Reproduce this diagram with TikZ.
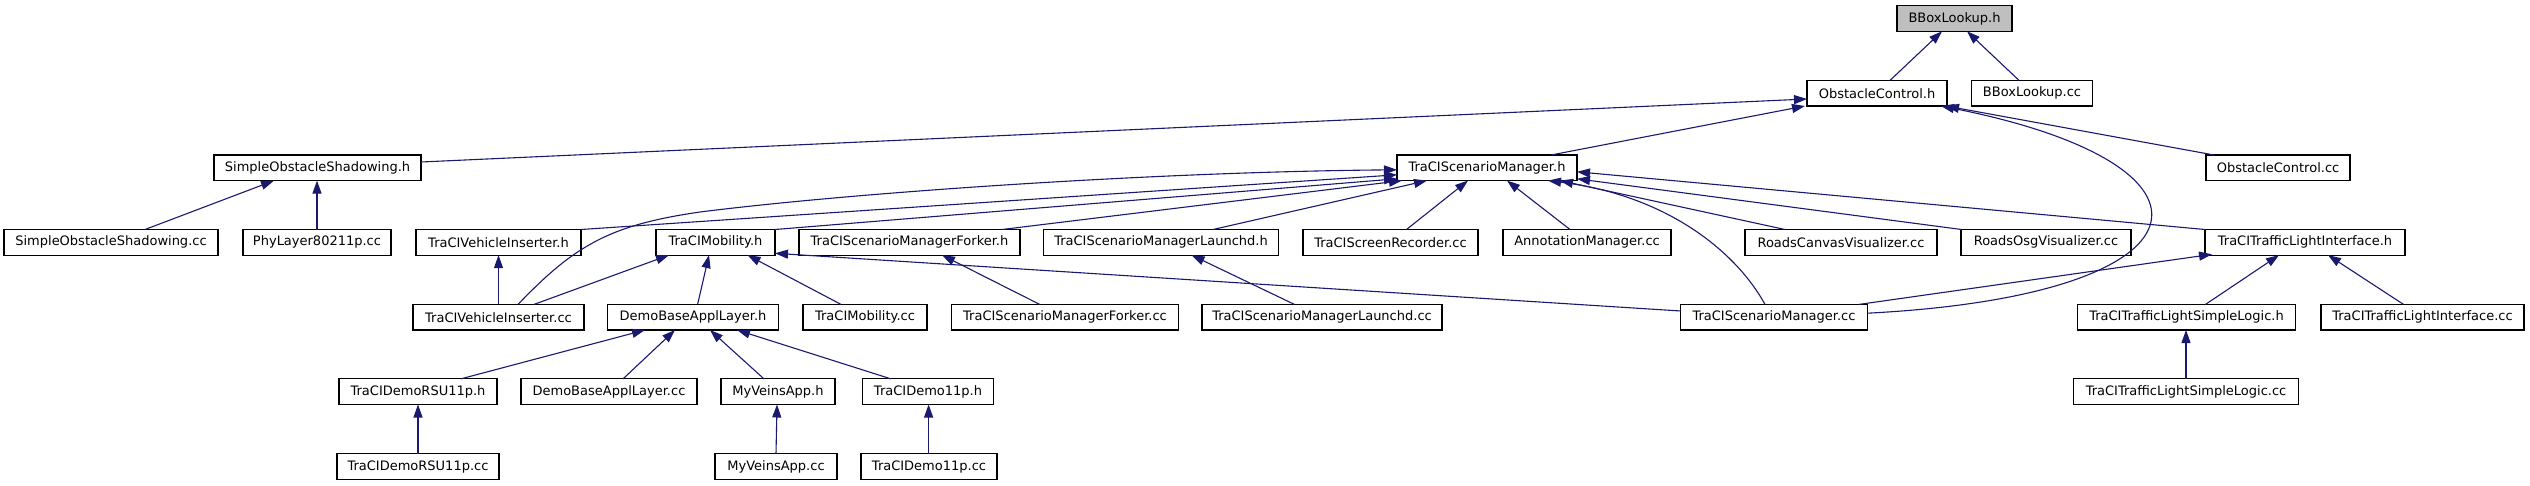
\documentclass[tikz,border=0pt]{standalone}
\usepackage{fontspec}
\setmainfont{DejaVu Sans}
\usetikzlibrary{arrows.meta,calc}
\definecolor{edgeblue}{HTML}{191970}
\definecolor{rootgray}{HTML}{BFBFBF}
\begin{document}
\begin{tikzpicture}[x=1pt,y=-1pt,
  fbox/.style={draw=black, line width=1.1pt, fill=white, minimum height=25.6pt, inner sep=0pt, font=\fontsize{13}{15}\selectfont, anchor=center},
  rootbox/.style={fbox, fill=rootgray},
  dep/.style={draw=edgeblue, line width=1.1pt, -{Triangle[length=13pt,width=9pt]}}
]
\useasboundingbox (0,0) rectangle (2530,485);
% row 1
\node[rootbox, minimum width=115pt] (bbh) at (1954.5,18.5) {BBoxLookup.h};
% row 2
\node[fbox, minimum width=140pt] (och) at (1877,93.2) {ObstacleControl.h};
\node[fbox, minimum width=121pt] (bbcc) at (2032,93.2) {BBoxLookup.cc};
% row 3
\node[fbox, minimum width=207pt] (sosh) at (317.5,167.8) {SimpleObstacleShadowing.h};
\node[fbox, minimum width=180pt] (tsmh) at (1487,167.8) {TraCIScenarioManager.h};
\node[fbox, minimum width=144pt] (occ) at (2278,167.8) {ObstacleControl.cc};
% row 4
\node[fbox, minimum width=214pt] (soscc) at (111,242.3) {SimpleObstacleShadowing.cc};
\node[fbox, minimum width=148pt] (phy) at (317,242.3) {PhyLayer80211p.cc};
\node[fbox, minimum width=165pt] (tvih) at (498.5,242.3) {TraCIVehicleInserter.h};
\node[fbox, minimum width=119pt] (tmh) at (715.5,242.3) {TraCIMobility.h};
\node[fbox, minimum width=221pt] (tsmfh) at (909.5,242.3) {TraCIScenarioManagerForker.h};
\node[fbox, minimum width=234.5pt] (tsmlh) at (1161,242.3) {TraCIScenarioManagerLaunchd.h};
\node[fbox, minimum width=175pt] (tsr) at (1390.5,242.3) {TraCIScreenRecorder.cc};
\node[fbox, minimum width=168pt] (ann) at (1587,242.3) {AnnotationManager.cc};
\node[fbox, minimum width=192pt] (rcv) at (1841,242.3) {RoadsCanvasVisualizer.cc};
\node[fbox, minimum width=170pt] (rov) at (2046,242.3) {RoadsOsgVisualizer.cc};
\node[fbox, minimum width=200pt] (tlih) at (2305,242.3) {TraCITrafficLightInterface.h};
% row 5
\node[fbox, minimum width=171pt] (tvicc) at (498.5,317.2) {TraCIVehicleInserter.cc};
\node[fbox, minimum width=171pt] (dbalh) at (693,317.2) {DemoBaseApplLayer.h};
\node[fbox, minimum width=124pt] (tmcc) at (865,317.2) {TraCIMobility.cc};
\node[fbox, minimum width=226.5pt] (tsmfcc) at (1065,317.2) {TraCIScenarioManagerForker.cc};
\node[fbox, minimum width=240pt] (tsmlcc) at (1322,317.2) {TraCIScenarioManagerLaunchd.cc};
\node[fbox, minimum width=186.5pt] (tsmcc) at (1774,317.2) {TraCIScenarioManager.cc};
\node[fbox, minimum width=218.5pt] (tlslh) at (2186.5,317.2) {TraCITrafficLightSimpleLogic.h};
\node[fbox, minimum width=203pt] (tlicc) at (2422.5,317.2) {TraCITrafficLightInterface.cc};
% row 6
\node[fbox, minimum width=158pt] (rsuh) at (418,391.7) {TraCIDemoRSU11p.h};
\node[fbox, minimum width=176pt] (dbalcc) at (609,391.7) {DemoBaseApplLayer.cc};
\node[fbox, minimum width=114pt] (mvh) at (778,391.7) {MyVeinsApp.h};
\node[fbox, minimum width=130.5pt] (d11h) at (928,391.7) {TraCIDemo11p.h};
\node[fbox, minimum width=225.5pt] (tlslcc) at (2186,391.7) {TraCITrafficLightSimpleLogic.cc};
% row 7
\node[fbox, minimum width=162pt] (rsucc) at (418,466.7) {TraCIDemoRSU11p.cc};
\node[fbox, minimum width=122pt] (mvcc) at (776,466.7) {MyVeinsApp.cc};
\node[fbox, minimum width=136pt] (d11cc) at (929,466.7) {TraCIDemo11p.cc};

% edges
\draw[dep] ($(och)+(13,-12.8)$) -- ($(bbh)+(-12.5,12.8)$);
\draw[dep] ($(bbcc)+(-13,-12.8)$) -- ($(bbh)+(12.5,12.8)$);
\draw[dep] ($(sosh)+(103.5,-5.8)$) -- ($(och)+(-70,5.8)$);
\draw[dep] ($(tsmh)+(64,-12.8)$) -- ($(och)+(-72,12.8)$);
\draw[dep] ($(occ)+(-64,-12.8)$) -- ($(och)+(69,12.8)$);
\draw[dep] ($(tsmcc)+(93.25,-4)$) .. controls (2220,295) and (2240,165) .. ($(och)+(64,12.8)$);
\draw[dep] ($(soscc)+(34,-12.8)$) -- ($(sosh)+(-43.5,12.8)$);
\draw[dep] ($(phy)+(0,-12.8)$) -- ($(sosh)+(-0.5,12.8)$);
\draw[dep] ($(tvih)+(82.5,-12.8)$) -- ($(tsmh)+(-90,7)$);
\draw[dep] ($(tvicc)+(19.5,-12.8)$) .. controls (575,245) and (610,225) .. (700,212) .. controls (850,193) and (1150,172) .. ($(tsmh)+(-90,2)$);
\draw[dep] ($(tmh)+(59.5,-12.8)$) -- ($(tsmh)+(-90,11)$);
\draw[dep] ($(tsmfh)+(92.5,-12.8)$) -- ($(tsmh)+(-85,12.8)$);
\draw[dep] ($(tsmlh)+(52,-12.8)$) -- ($(tsmh)+(-60,12.8)$);
\draw[dep] ($(tsr)+(16,-12.8)$) -- ($(tsmh)+(-19,12.8)$);
\draw[dep] ($(ann)+(-17,-12.8)$) -- ($(tsmh)+(20,12.8)$);
\draw[dep] ($(tsmcc)+(-9,-12.8)$) .. controls (1735,250) and (1665,195) .. ($(tsmh)+(61,12.8)$);
\draw[dep] ($(rcv)+(-56,-12.8)$) -- ($(tsmh)+(73,12.8)$);
\draw[dep] ($(rov)+(-84.5,-12.8)$) -- ($(tsmh)+(90,11)$);
\draw[dep] ($(tlih)+(-100,-12.8)$) -- ($(tsmh)+(90,4)$);
\draw[dep] ($(tvicc)+(0,-12.8)$) -- ($(tvih)+(0,12.8)$);
\draw[dep] ($(tvicc)+(35.5,-12.8)$) -- ($(tmh)+(-46.5,12.8)$);
\draw[dep] ($(dbalh)+(4.6,-12.8)$) -- ($(tmh)+(-6.5,12.8)$);
\draw[dep] ($(tmcc)+(-24,-12.8)$) -- ($(tmh)+(32,12.8)$);
\draw[dep] ($(tsmcc)+(-93.25,-6.2)$) -- ($(tmh)+(59.5,11)$);
\draw[dep] ($(tsmfcc)+(-25.3,-12.8)$) -- ($(tsmfh)+(32.5,12.8)$);
\draw[dep] ($(tsmlcc)+(-27.6,-12.8)$) -- ($(tsmlh)+(30.5,12.8)$);
\draw[dep] ($(tsmcc)+(85,-12.8)$) -- ($(tlih)+(-93,12)$);
\draw[dep] ($(tlslh)+(19,-12.8)$) -- ($(tlih)+(-26,12.8)$);
\draw[dep] ($(tlicc)+(-19,-12.8)$) -- ($(tlih)+(23,12.8)$);
\draw[dep] ($(tlslcc)+(0,-12.8)$) -- ($(tlslh)+(-0.5,12.8)$);
\draw[dep] ($(rsuh)+(42.7,-12.8)$) -- ($(dbalh)+(-48,12.8)$);
\draw[dep] ($(dbalcc)+(14,-12.8)$) -- ($(dbalh)+(-18,12.8)$);
\draw[dep] ($(mvh)+(-14,-12.8)$) -- ($(dbalh)+(17,12.8)$);
\draw[dep] ($(d11h)+(-37,-12.8)$) -- ($(dbalh)+(44,12.8)$);
\draw[dep] ($(rsucc)+(0,-12.8)$) -- ($(rsuh)+(0,12.8)$);
\draw[dep] ($(mvcc)+(0,-12.8)$) -- ($(mvh)+(-1,12.8)$);
\draw[dep] ($(d11cc)+(-0.4,-12.8)$) -- ($(d11h)+(0.6,12.8)$);
\end{tikzpicture}
\end{document}
